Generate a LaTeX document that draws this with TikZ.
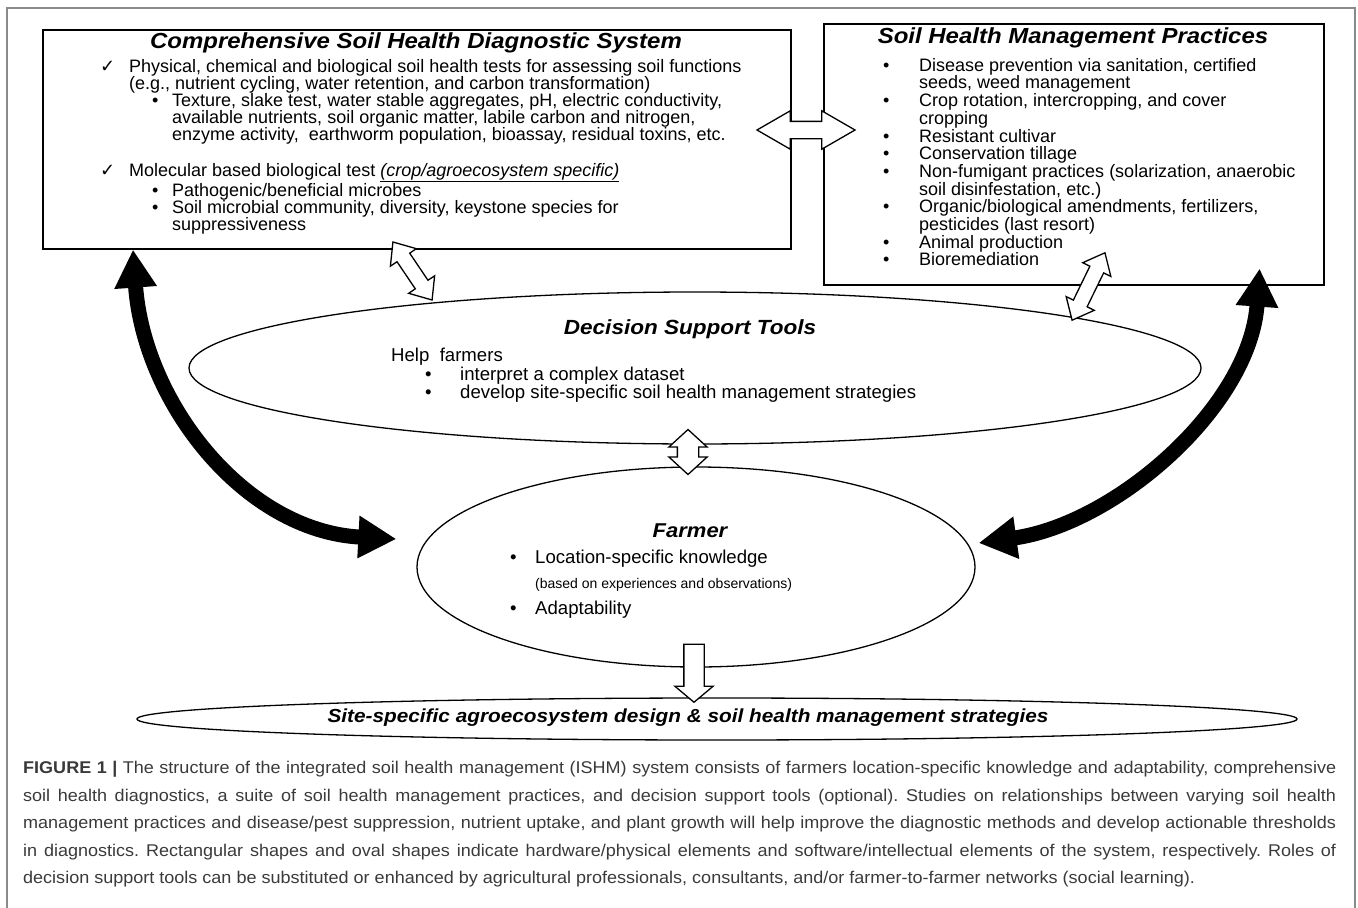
\documentclass[tikz,border=0pt]{standalone}
\usepackage{fontspec}
\setmainfont{Liberation Sans}
\newfontfamily\headfont{Liberation Sans}[FakeStretch=1.1]
\newfontfamily\symfont{DejaVu Sans}
\newfontfamily\captionfont{Liberation Sans}[FakeStretch=1.06]
\usetikzlibrary{
arrows.meta,
shapes.geometric,
shapes.arrows,
calc,
positioning
}

\definecolor{captiongray}{HTML}{3A3A3A}
\definecolor{framegray}{HTML}{8A8A8A}

% list marks
\newcommand{\chk}{\makebox[29pt][l]{\symfont\char"2713}}
\newcommand{\bul}[1]{\makebox[#1][l]{\textbullet}}

\begin{document}
\begin{tikzpicture}[x=1pt,y=1pt,
  panel/.style={draw, line width=1.6pt, anchor=north west, inner sep=0pt},
  oval/.style={draw, ellipse, line width=1.3pt, inner sep=0pt},
  heading/.style={font=\headfont\fontsize{21.8}{24}\selectfont\bfseries\itshape, inner sep=0pt},
  listing/.style={font=\fontsize{18}{17}\selectfont, align=left, anchor=north west, inner sep=0pt},
  line/.style={font=\fontsize{18.6}{19}\selectfont, anchor=base west, inner sep=0pt},
  twoway/.style={draw, fill=white, line width=1.3pt, double arrow, inner xsep=0pt, double arrow head indent=0pt},
  oneway/.style={draw, fill=white, line width=1.3pt, single arrow, inner xsep=0pt},
  feedback/.style={line width=15pt, {Triangle[length=38pt,width=40pt]}-{Triangle[length=38pt,width=40pt]}}
]
    \useasboundingbox (0,0) rectangle (1358,-908);
    \draw[framegray, line width=1.5pt] (7,-908) -- (7,-8) -- (1355,-8) -- (1355,-908);

    % diagnostics panel
    \node[panel, minimum width=748pt, minimum height=219pt] (diag) at (42,-29) {};
    \node[heading] (diagtitle) at (416,-43) {Comprehensive Soil Health Diagnostic System};
    \node[listing] (diagtests) at (100,-59) {%
      \chk Physical, chemical and biological soil health tests for assessing soil functions\\
      \hspace*{29pt}(e.g., nutrient cycling, water retention, and carbon transformation)\\
      \hspace*{52pt}\bul{20pt}Texture, slake test, water stable aggregates, pH, electric conductivity,\\
      \hspace*{72pt}available nutrients, soil organic matter, labile carbon and nitrogen,\\
      \hspace*{72pt}enzyme activity,\ \ earthworm population, bioassay, residual toxins, etc.\\[19pt]
      \chk Molecular based biological test \underline{\textit{(crop/agroecosystem specific)}}\\
      \hspace*{52pt}\bul{20pt}Pathogenic/beneficial microbes\\
      \hspace*{52pt}\bul{20pt}Soil microbial community, diversity, keystone species for\\
      \hspace*{72pt}suppressiveness};

    % practices panel
    \node[panel, minimum width=500pt, minimum height=261pt] (mgmt) at (823,-23) {};
    \node[heading] (mgmttitle) at (1073,-38) {Soil Health Management Practices};
    \node[listing, font=\fontsize{18}{17.7}\selectfont] (practices) at (883,-58) {%
      \bul{36pt}Disease prevention via sanitation, certified\\
      \hspace*{36pt}seeds, weed management\\
      \bul{36pt}Crop rotation, intercropping, and cover\\
      \hspace*{36pt}cropping\\
      \bul{36pt}Resistant cultivar\\
      \bul{36pt}Conservation tillage\\
      \bul{36pt}Non-fumigant practices (solarization, anaerobic\\
      \hspace*{36pt}soil disinfestation, etc.)\\
      \bul{36pt}Organic/biological amendments, fertilizers,\\
      \hspace*{36pt}pesticides (last resort)\\
      \bul{36pt}Animal production\\
      \bul{36pt}Bioremediation};

    % decision support
    \node[oval, minimum width=1012pt, minimum height=152pt] (dst) at (695,-368) {};
    \node[heading, font=\headfont\fontsize{20.5}{22}\selectfont\bfseries\itshape] (dsttitle) at (690,-329) {Decision Support Tools};
    \node[listing, font=\fontsize{18.6}{17}\selectfont] (dsthelp) at (391,-348) {%
      Help\ \ farmers\\
      \hspace*{34pt}\bul{35pt}interpret a complex dataset\\
      \hspace*{34pt}\bul{35pt}develop site-specific soil health management strategies};

    % farmer
    \node[oval, minimum width=558pt, minimum height=200pt] (farmer) at (696,-567) {};
    \node[heading, font=\headfont\fontsize{20}{22}\selectfont\bfseries\itshape] (farmertitle) at (690,-531) {Farmer};
    \node[line] (knowledge) at (510,-563) {\bul{25pt}Location-specific knowledge};
    \node[line, font=\fontsize{14}{15}\selectfont] (basis) at (535,-588) {(based on experiences and observations)};
    \node[line] (adapt) at (510,-614) {\bul{25pt}Adaptability};

    % outcome
    \node[oval, minimum width=1160pt, minimum height=42pt] (design) at (717,-719) {};
    \node[heading, font=\headfont\fontsize{18.9}{20}\selectfont\bfseries\itshape] (designtext) at (688,-718)
      {Site-specific agroecosystem design \& soil health management strategies};

    % white block arrows
    \node[twoway, minimum height=98pt, minimum width=37pt, inner ysep=8pt, double arrow head extend=10.5pt,
          double arrow tip angle=60] (swap) at (806,-130) {};
    \node[twoway, rotate=-56, minimum height=70pt, minimum width=30pt, inner ysep=7pt, double arrow head extend=8pt,
          double arrow tip angle=80] (diaglink) at (412.5,-271) {};
    \node[twoway, rotate=64, minimum height=75pt, minimum width=30pt, inner ysep=7pt, double arrow head extend=8pt,
          double arrow tip angle=80] (mgmtlink) at (1088.5,-286.5) {};
    \node[twoway, rotate=90, minimum height=45pt, minimum width=37pt, inner ysep=10pt, double arrow head extend=8.5pt,
          double arrow tip angle=95] (dstlink) at (688,-452) {};
    \node[oneway, rotate=-90, minimum height=58pt, minimum width=37pt, inner ysep=9.5pt, single arrow head extend=9pt,
          single arrow tip angle=100] (outcome) at (694,-669) {};

    % black feedback loops
    \coordinate (farmerW) at ([shift={(-20,28)}]farmer.west);
    \coordinate (farmerE) at ([shift={(3,24)}]farmer.east);
    \coordinate (diagS) at ([xshift=91]diag.south west);
    \coordinate (mgmtS) at ([shift={(-65,17)}]mgmt.south east);
    \draw[feedback] (farmerW) to[out=177,in=-86] (diagS);
    \draw[feedback] (farmerE) to[out=8,in=-94,looseness=0.9] (mgmtS);

    % caption
    \node[anchor=north west, inner sep=0pt, align=left, text=captiongray,
          font=\captionfont\fontsize{17}{27.5}\selectfont\frenchspacing] (caption) at (23,-761) {%
      \makebox[1313pt][s]{\textbf{FIGURE 1 |} The structure of the integrated soil health management (ISHM) system consists of farmers location-specific knowledge and adaptability, comprehensive}\\
      \makebox[1313pt][s]{soil health diagnostics, a suite of soil health management practices, and decision support tools (optional). Studies on relationships between varying soil health}\\
      \makebox[1313pt][s]{management practices and disease/pest suppression, nutrient uptake, and plant growth will help improve the diagnostic methods and develop actionable thresholds}\\
      \makebox[1313pt][s]{in diagnostics. Rectangular shapes and oval shapes indicate hardware/physical elements and software/intellectual elements of the system, respectively. Roles of}\\
      decision support tools can be substituted or enhanced by agricultural professionals, consultants, and/or farmer-to-farmer networks (social learning).};
\end{tikzpicture}
\end{document}
